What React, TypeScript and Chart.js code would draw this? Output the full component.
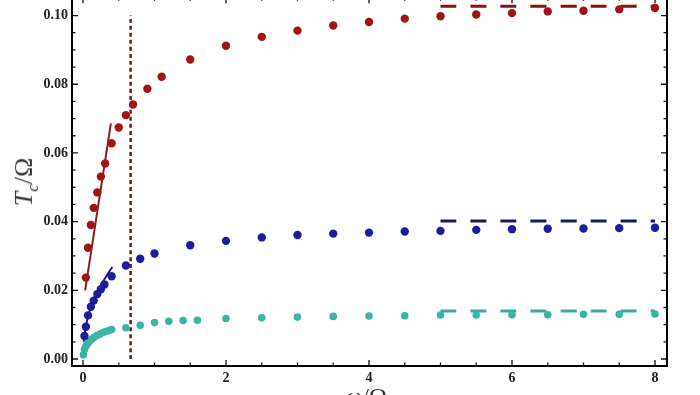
import React, { useEffect, useRef } from "react";
import { Chart, registerables } from "chart.js";

Chart.register(...registerables);

// ---- data ----
const redX = [0.04, 0.07, 0.11, 0.15, 0.2, 0.25, 0.31, 0.4, 0.5, 0.6, 0.7, 0.9, 1.1, 1.5, 2, 2.5, 3, 3.5, 4, 4.5, 5, 5.5, 6, 6.5, 7, 7.5, 8];
const redY = [0.0237, 0.0324, 0.039, 0.044, 0.0485, 0.0531, 0.0569, 0.0628, 0.0674, 0.071, 0.0741, 0.0787, 0.0822, 0.0872, 0.0912, 0.0938, 0.0956, 0.0971, 0.0981, 0.0991, 0.0998, 0.1003, 0.1007, 0.1012, 0.1014, 0.1018, 0.1022];

const blueX = [0.02, 0.04, 0.07, 0.11, 0.15, 0.2, 0.25, 0.3, 0.4, 0.6, 0.8, 1, 1.5, 2, 2.5, 3, 3.5, 4, 4.5, 5, 5.5, 6, 6.5, 7, 7.5, 8];
const blueY = [0.0067, 0.0094, 0.0127, 0.0152, 0.017, 0.0189, 0.0203, 0.0217, 0.0241, 0.0272, 0.0292, 0.0307, 0.0331, 0.0344, 0.0354, 0.0361, 0.0365, 0.0368, 0.0371, 0.0373, 0.0376, 0.0378, 0.0379, 0.038, 0.0381, 0.0382];

const tealX = [0.005, 0.02, 0.04, 0.06, 0.08, 0.1, 0.13, 0.16, 0.2, 0.24, 0.28, 0.32, 0.36, 0.4, 0.6, 0.8, 1, 1.2, 1.4, 1.6, 2, 2.5, 3, 3.5, 4, 4.5, 5, 5.5, 6, 6.5, 7, 7.5, 8];
const tealY = [0.0012, 0.0028, 0.0037, 0.0044, 0.0049, 0.0054, 0.0059, 0.0064, 0.0069, 0.0073, 0.0077, 0.008, 0.0083, 0.0086, 0.0091, 0.0098, 0.0106, 0.011, 0.0112, 0.0113, 0.0118, 0.012, 0.0122, 0.0124, 0.0125, 0.0126, 0.0128, 0.0128, 0.0129, 0.0129, 0.013, 0.013, 0.0131];

// fit lines at small x
const redFitX = [0.03, 0.39];
const redFitY = [0.02, 0.0686];
const blueFitX = [0.01, 0.03, 0.06, 0.1, 0.15, 0.2, 0.25, 0.3, 0.35, 0.41];
const blueFitY = [0.005, 0.0085, 0.0115, 0.0145, 0.0175, 0.0197, 0.0215, 0.0232, 0.0249, 0.0268];
const tealFitX = [0.0, 0.02, 0.05, 0.1, 0.15, 0.2, 0.25, 0.3, 0.35, 0.4];
const tealFitY = [0.0008, 0.0028, 0.004, 0.0054, 0.0063, 0.0069, 0.0074, 0.0079, 0.0083, 0.0086];

// asymptotes (x from, x to, value)
const asymX = [5, 8];
const redAsym = 0.1027;
const blueAsym = 0.0402;
const tealAsym = 0.014;

// vertical marker
const vLineX = 0.666;
const vLineY = [0, 0.1];

// axes
const xRange = [-0.154, 8.168];
const yRange = [-0.00204, 0.10534];
const xMajorTicks = [0, 2, 4, 6, 8];
const xMinorTicks = [0.5, 1, 1.5, 2.5, 3, 3.5, 4.5, 5, 5.5, 6.5, 7, 7.5];
const yMajorTicks = [0, 0.02, 0.04, 0.06, 0.08, 0.1];
const yMinorTicks = [0.005, 0.01, 0.015, 0.025, 0.03, 0.035, 0.045, 0.05, 0.055, 0.065, 0.07, 0.075, 0.085, 0.09, 0.095];

const zip = (xs: number[], ys: number[]) => xs.map((x, i) => ({ x, y: ys[i] }));

const RED = "#a01414";
const BLUE = "#1c1c9c";
const TEAL = "#3ab5a5";

const framePlugin = {
  id: "frameTicks",
  afterDatasetsDraw(chart: any) {
    const { ctx, chartArea: a, scales } = chart;
    const xs = scales.x;
    const ys = scales.y;
    ctx.save();
    ctx.strokeStyle = "#111";
    ctx.lineWidth = 1.3;
    const drawX = (vals: number[], len: number) => {
      vals.forEach((v) => {
        const px = xs.getPixelForValue(v);
        ctx.beginPath();
        ctx.moveTo(px, a.bottom);
        ctx.lineTo(px, a.bottom - len);
        ctx.moveTo(px, a.top);
        ctx.lineTo(px, a.top + len);
        ctx.stroke();
      });
    };
    const drawY = (vals: number[], len: number) => {
      vals.forEach((v) => {
        const py = ys.getPixelForValue(v);
        ctx.beginPath();
        ctx.moveTo(a.left, py);
        ctx.lineTo(a.left + len, py);
        ctx.moveTo(a.right, py);
        ctx.lineTo(a.right - len, py);
        ctx.stroke();
      });
    };
    drawX(xMajorTicks, 6);
    drawX(xMinorTicks, 3.5);
    drawY(yMajorTicks, 6);
    drawY(yMinorTicks, 3.5);
    ctx.lineWidth = 2;
    ctx.strokeStyle = "#000";
    ctx.strokeRect(a.left, a.top, a.right - a.left, a.bottom - a.top);
    ctx.restore();
  },
};

export default function App() {
  const ref = useRef<HTMLCanvasElement | null>(null);
  useEffect(() => {
    if (!ref.current) return;
    const line = (data: any[], color: string, width: number, dash: number[] = []) => ({
      type: "line" as const,
      data,
      borderColor: color,
      borderWidth: width,
      borderDash: dash,
      pointRadius: 0,
      fill: false,
      tension: 0.3,
      order: 2,
    });
    const pts = (data: any[], color: string, r: number) => ({
      type: "scatter" as const,
      data,
      backgroundColor: color,
      borderColor: color,
      borderWidth: 0,
      pointRadius: r,
      showLine: false,
      order: 1,
    });
    const chart = new Chart(ref.current, {
      type: "scatter",
      data: {
        datasets: [
          line(zip([vLineX, vLineX], vLineY), "#6e1c1c", 2.5, [4, 3]),
          line(zip(redFitX, redFitY), "#8a1e1e", 2),
          line(zip(blueFitX, blueFitY), "#1a1a86", 2),
          line(zip(tealFitX, tealFitY), TEAL, 4),
          line(zip(asymX, [redAsym, redAsym]), "#8c1010", 3, [16, 14]),
          line(zip(asymX, [blueAsym, blueAsym]), "#1a1a5e", 3, [16, 14]),
          line(zip(asymX, [tealAsym, tealAsym]), "#35ad9d", 3, [16, 14]),
          pts(zip(redX, redY), RED, 4.2),
          pts(zip(blueX, blueY), BLUE, 4.2),
          pts(zip(tealX, tealY), TEAL, 3.8),
        ] as any,
      },
      options: {
        animation: false,
        responsive: false,
        events: [],
        layout: { padding: { left: 0, right: 33, top: 0, bottom: 0 } },
        plugins: { legend: { display: false }, tooltip: { enabled: false } },
        scales: {
          x: {
            type: "linear",
            min: xRange[0],
            max: xRange[1],
            grid: { display: false, drawTicks: false },
            border: { display: false },
            afterBuildTicks: (s: any) => {
              s.ticks = xMajorTicks.map((v) => ({ value: v }));
            },
            afterFit: (s: any) => {
              s.height = 31;
              s.paddingLeft = 0;
              s.paddingRight = 0;
            },
            ticks: {
              padding: 4,
              color: "#222",
              font: { family: "'Liberation Serif', serif", size: 14, weight: "bold" },
              callback: (v: any) => String(v),
              maxRotation: 0,
            },
          },
          y: {
            type: "linear",
            min: yRange[0],
            max: yRange[1],
            grid: { display: false, drawTicks: false },
            border: { display: false },
            afterBuildTicks: (s: any) => {
              s.ticks = yMajorTicks.map((v) => ({ value: v }));
            },
            afterFit: (s: any) => {
              s.width = 72;
              s.paddingTop = 0;
              s.paddingBottom = 0;
            },
            ticks: {
              padding: 4,
              color: "#222",
              font: { family: "'Liberation Serif', serif", size: 14, weight: "bold" },
              callback: (v: any) => Number(v).toFixed(2),
            },
          },
        },
      },
      plugins: [framePlugin],
    } as any);
    return () => chart.destroy();
  }, []);

  return (
    <div style={{ position: "fixed", left: 0, top: 0, width: 700, height: 395, overflow: "hidden", background: "#fff" }}>
      <canvas ref={ref} width={700} height={404} style={{ position: "absolute", left: 0, top: -7, width: 700, height: 404 }} />
      <div
        style={{
          position: "absolute",
          left: 26,
          top: 182,
          transform: "translate(-50%, -50%) rotate(-90deg)",
          whiteSpace: "nowrap",
          fontFamily: "'Liberation Serif', serif",
          fontSize: 26,
          color: "#333",
          lineHeight: 1,
        }}
      >
        <i>T</i>
        <sub style={{ fontSize: 17 }}>
          <i>c</i>
        </sub>
        /Ω
      </div>
      <div
        style={{
          position: "absolute",
          left: 366,
          top: 384,
          transform: "translateX(-50%)",
          whiteSpace: "nowrap",
          fontFamily: "'Liberation Serif', serif",
          fontSize: 24,
          color: "#333",
          lineHeight: 1,
        }}
      >
        <i>ω</i>/Ω
      </div>
    </div>
  );
}
